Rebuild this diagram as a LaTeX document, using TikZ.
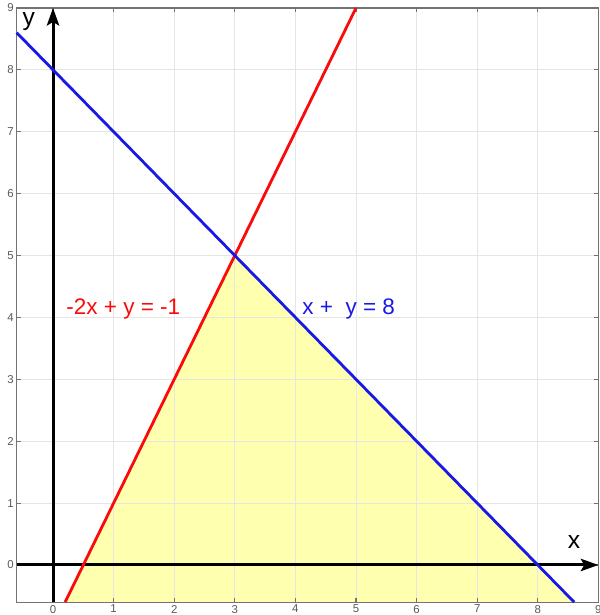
\documentclass[tikz,border=0pt]{standalone}
\usepackage{fontspec}
\setmainfont{Liberation Sans}
\usetikzlibrary{arrows.meta}
\definecolor{regionfill}{RGB}{255,255,176}
\definecolor{eqred}{RGB}{250,10,10}
\definecolor{eqblue}{RGB}{25,25,230}
\tikzset{%
  gridline/.style={line width=0.5pt,draw=black!10},
  frame/.style={line width=0.7pt,draw=black!55},
  tick/.style={line width=0.6pt,draw=black!55},
  ticklabel/.style={font=\fontsize{6.5}{7}\selectfont,text=black!65,inner sep=1.5pt},
  axis/.style={line width=1.7pt,draw=black,-{Stealth[length=10pt,width=7pt,inset=2pt]}},
  eqline/.style={line width=1.6pt,draw=#1},
  eqline/.default=red,
  eqlabel/.style={font=\fontsize{12.8}{14}\selectfont,text=#1},
  axislabel/.style={font=\fontsize{14}{16}\selectfont}
}

\begin{document}
\begin{tikzpicture}[x=1.212cm,y=1.238cm]

    % keep the page the size of the picture
    \useasboundingbox (-0.875,-0.808) rectangle (9.026,9.128);

    % feasible region, below both lines
    \coordinate (r0) at (0.2,-0.6);
    \coordinate (p) at (3,5);
    \coordinate (b1) at (8.6,-0.6);
    \fill[regionfill] (r0) -- (p) -- (b1) -- cycle;

    % grid
    \foreach \k in {0,...,8} {
        \draw[gridline] (\k,-0.6) -- (\k,9);
        \draw[gridline] (-0.6,\k) -- (9,\k);
    }

    % frame, ticks and tick labels
    \draw[frame] (-0.6,-0.6) rectangle (9,9);
    \foreach \k in {0,...,9} {
        \draw[tick] (\k,-0.6) -- (\k,-0.535);
        \draw[tick] (\k,9) -- (\k,8.935);
        \draw[tick] (-0.6,\k) -- (-0.535,\k);
        \draw[tick] (9,\k) -- (8.935,\k);
        \node[ticklabel,anchor=north] (tx\k) at (\k,-0.6) {\k};
        \node[ticklabel,anchor=east] (ty\k) at (-0.6,\k) {\k};
    }

    % axes
    \coordinate (xa0) at (-0.6,0);
    \coordinate (xa1) at (9,0);
    \coordinate (ya0) at (0,-0.6);
    \coordinate (ya1) at (0,9);
    \draw[axis] (xa0) -- (xa1);
    \draw[axis] (ya0) -- (ya1);
    \node[axislabel] (xlab) at (8.6,0.37) {x};
    \node[axislabel] (ylab) at (-0.4,8.78) {y};

    % the two constraint lines
    \coordinate (r1) at (5,9);
    \coordinate (b0) at (-0.6,8.6);
    \draw[eqline=eqred] (r0) -- (r1);
    \draw[eqline=eqblue] (b0) -- (b1);

    % labels of the lines
    \node[eqlabel=eqred] (redlab) at (1.16,4.13) {-2x + y = -1};
    \node[eqlabel=eqblue] (bluelab) at (4.88,4.13) {x +\ \ y = 8};

\end{tikzpicture}
\end{document}
